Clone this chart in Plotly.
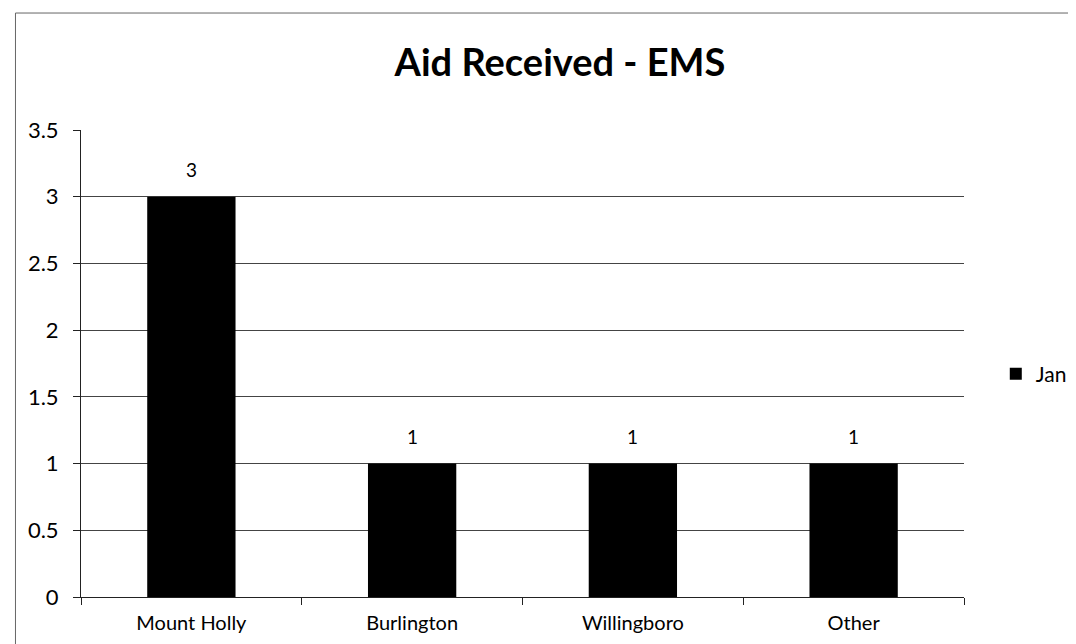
import plotly.graph_objects as go

categories = ["Mount Holly", "Burlington", "Willingboro", "Other"]
jan_values = [3, 1, 1, 1]
y_ticks = [0, 0.5, 1, 1.5, 2, 2.5, 3, 3.5]
y_tick_labels = ["0", "0.5", "1", "1.5", "2", "2.5", "3", "3.5"]

FONT = "Lato, Open Sans, sans-serif"

fig = go.Figure()
fig.add_trace(go.Bar(
    x=categories, y=jan_values, name="Jan",
    marker=dict(color="black", line=dict(width=0)),
))

for cat, val in zip(categories, jan_values):
    fig.add_annotation(x=cat, y=val, text=str(val), showarrow=False,
                       yanchor="bottom", yshift=14,
                       font=dict(family=FONT, size=19, color="black"))

fig.update_layout(
    width=1076, height=644,
    margin=dict(l=73, r=114, t=122, b=55),
    paper_bgcolor="white", plot_bgcolor="white",
    title=dict(text="<b>Aid Received - EMS</b>", x=0.513, xanchor="center",
               y=0.9146, yanchor="middle",
               font=dict(family=FONT, size=38, color="black")),
    bargap=0.6,
    showlegend=True,
    legend=dict(x=1.036, y=0.4775, xanchor="left", yanchor="middle",
                font=dict(family=FONT, size=21, color="black"),
                itemwidth=30, bgcolor="rgba(0,0,0,0)"),
    xaxis=dict(showline=True, linecolor="#222", linewidth=1,
               ticks="outside", tickson="boundaries", ticklen=7, tickcolor="#222",
               ticklabelstandoff=8,
               tickfont=dict(family=FONT, size=20, color="black"),
               showgrid=False),
    yaxis=dict(range=[0, 3.5], tickvals=y_ticks, ticktext=y_tick_labels,
               showline=True, linecolor="#222", linewidth=1,
               ticks="outside", ticklen=7, tickcolor="#222",
               ticklabelstandoff=10,
               tickfont=dict(family=FONT, size=22, color="black"),
               showgrid=True, gridcolor="#444", gridwidth=1, zeroline=False),
)

fig.add_shape(type="rect", xref="paper", yref="paper", x0=-0.0742, x1=1.3, y0=-0.3, y1=1.2505,
              line=dict(color="#666", width=1))

fig.write_html("out.html")
